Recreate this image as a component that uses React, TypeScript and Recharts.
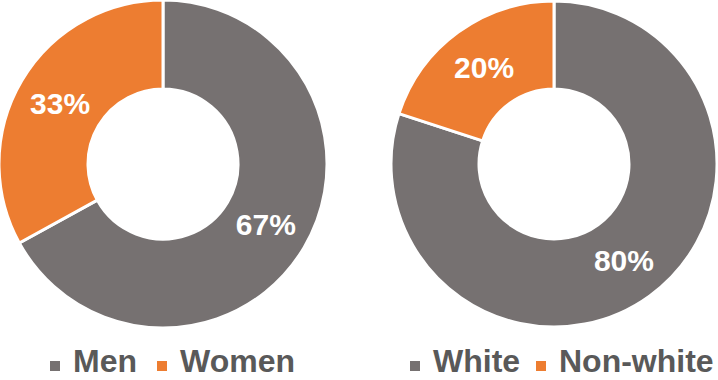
import React from "react";
import { PieChart, Pie, Cell } from "recharts";

const genderCategories = ["Men", "Women"];
const genderValues = [67, 33];
const raceCategories = ["White", "Non-white"];
const raceValues = [80, 20];
const sliceColors = ["#767171", "#ED7D31"];

const genderData = genderCategories.map((name, i) => ({ name, value: genderValues[i] }));
const raceData = raceCategories.map((name, i) => ({ name, value: raceValues[i] }));

const RADIAN = Math.PI / 180;

const renderLabel = (props: any) => {
  const { cx, cy, midAngle, innerRadius, outerRadius, value } = props;
  const r = (innerRadius + outerRadius) / 2;
  const x = cx + r * Math.cos(-midAngle * RADIAN);
  const y = cy + r * Math.sin(-midAngle * RADIAN);
  return (
    <text
      x={x}
      y={y}
      fill="#ffffff"
      textAnchor="middle"
      dominantBaseline="central"
      fontFamily="'Liberation Sans', Arial, sans-serif"
      fontWeight="bold"
      fontSize={30}
    >
      {`${value}%`}
    </text>
  );
};

const LegendItem = ({ color, label, left }: { color: string; label: string; left: number }) => (
  <>
    <div style={{ position: "absolute", left, top: 361, width: 10, height: 10, background: color }} />
    <div
      style={{
        position: "absolute",
        left: left + 23,
        top: 343,
        fontFamily: "'Liberation Sans', Arial, sans-serif",
        fontWeight: "bold",
        fontSize: 32,
        color: "#595959",
        lineHeight: "normal",
        whiteSpace: "nowrap",
      }}
    >
      {label}
    </div>
  </>
);

export default function App() {
  return (
    <div style={{ position: "absolute", left: 0, top: 0, width: 718, height: 380, background: "#fff" }}>
      <PieChart
        width={718}
        height={380}
        margin={{ top: 0, right: 0, bottom: 0, left: 0 }}
        style={{ position: "absolute", left: 0, top: 0 }}
      >
        <Pie
          data={genderData}
          dataKey="value"
          nameKey="name"
          cx={163}
          cy={164}
          innerRadius={75}
          outerRadius={164}
          startAngle={90}
          endAngle={-270}
          stroke="#ffffff"
          strokeWidth={3}
          label={renderLabel}
          labelLine={false}
          isAnimationActive={false}
        >
          {genderData.map((d, i) => (
            <Cell key={d.name} fill={sliceColors[i]} />
          ))}
        </Pie>
        <Pie
          data={raceData}
          dataKey="value"
          nameKey="name"
          cx={554}
          cy={164}
          innerRadius={75}
          outerRadius={163}
          startAngle={90}
          endAngle={-270}
          stroke="#ffffff"
          strokeWidth={3}
          label={renderLabel}
          labelLine={false}
          isAnimationActive={false}
        >
          {raceData.map((d, i) => (
            <Cell key={d.name} fill={sliceColors[i]} />
          ))}
        </Pie>
      </PieChart>
      <LegendItem color={sliceColors[0]} label={genderCategories[0]} left={50} />
      <LegendItem color={sliceColors[1]} label={genderCategories[1]} left={157} />
      <LegendItem color={sliceColors[0]} label={raceCategories[0]} left={410} />
      <LegendItem color={sliceColors[1]} label={raceCategories[1]} left={536} />
    </div>
  );
}
